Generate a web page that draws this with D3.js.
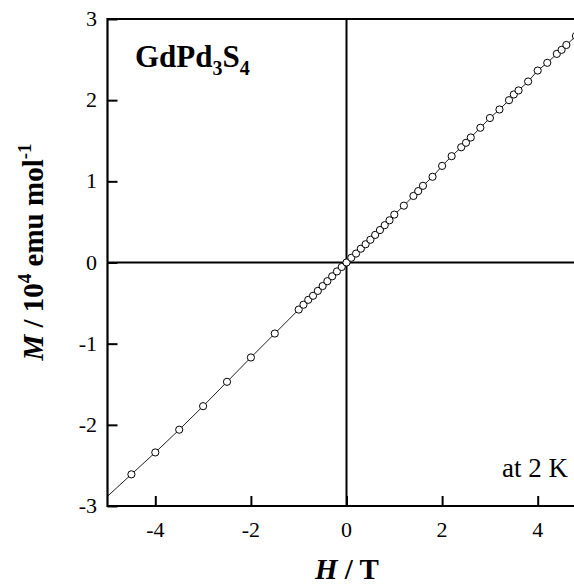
<!DOCTYPE html>
<html>
<head>
<meta charset="utf-8">
<script src="https://cdn.jsdelivr.net/npm/d3@7"></script>
<style>
  body { margin: 0; background: #fff; }
  svg { display: block; overflow: hidden; }
  text { font-family: "Liberation Serif", "Times New Roman", serif; fill: #000; }
</style>
</head>
<body>
<svg id="svg"></svg>
<script>
// field H (T) and magnetization M (10^4 emu/mol)
let fieldNeg = [-4.5, -4, -3.5, -3, -2.5, -2, -1.5, -1, -0.9, -0.8, -0.7, -0.6, -0.5, -0.4, -0.3, -0.2, -0.1, 0];
let momentNeg = [-2.61, -2.34, -2.06, -1.77, -1.47, -1.17, -0.875, -0.58, -0.52, -0.46, -0.41, -0.35, -0.29, -0.23, -0.17, -0.11, -0.055, 0];
let fieldPos = [0.1, 0.2, 0.3, 0.4, 0.5, 0.6, 0.7, 0.8, 0.9, 1.0, 1.2, 1.4, 1.5, 1.6, 1.8, 2.0, 2.2, 2.4, 2.5, 2.6, 2.8, 3.0, 3.2, 3.4, 3.5, 3.6, 3.8, 4.0, 4.2, 4.4, 4.5, 4.6, 4.8];
let momentPos = [0.058, 0.11, 0.17, 0.225, 0.28, 0.34, 0.40, 0.46, 0.52, 0.59, 0.70, 0.82, 0.88, 0.945, 1.056, 1.19, 1.31, 1.42, 1.475, 1.54, 1.66, 1.78, 1.885, 2.0, 2.07, 2.12, 2.23, 2.365, 2.46, 2.57, 2.62, 2.68, 2.79];
// the thin line through the points runs to both edges
let fitField = [-5, 5];
let fitMoment = [-2.88, 2.92];

let xTicks = [-4, -2, 0, 2, 4];
let yTicks = [-3, -2, -1, 0, 1, 2, 3];

let width = 574, height = 586;
let svg = d3.select("#svg").attr("width", width).attr("height", height);

let x = d3.scaleLinear().domain([-5, 5]).range([107.5, 585.5]);
let y = d3.scaleLinear().domain([-3, 3]).range([506, 19]);

let points = [];
fieldNeg.forEach((h, i) => points.push([h, momentNeg[i]]));
fieldPos.forEach((h, i) => points.push([h, momentPos[i]]));

let linePts = [[fitField[0], fitMoment[0]]].concat(points, [[fitField[1], fitMoment[1]]]);

// zero lines
svg.append("line").attr("x1", x(-5)).attr("x2", x(5)).attr("y1", y(0)).attr("y2", y(0))
    .attr("stroke", "#000").attr("stroke-width", 2);
svg.append("line").attr("x1", x(0)).attr("x2", x(0)).attr("y1", y(3)).attr("y2", y(-3))
    .attr("stroke", "#000").attr("stroke-width", 2);

// line + open circles
svg.append("path").datum(linePts)
    .attr("d", d3.line().x(d => x(d[0])).y(d => y(d[1])))
    .attr("fill", "none").attr("stroke", "#222").attr("stroke-width", 1);

svg.append("g").selectAll("circle")
    .data(points)
    .join("circle")
    .attr("cx", d => x(d[0]))
    .attr("cy", d => y(d[1]))
    .attr("r", 3.6)
    .attr("fill", "#fff")
    .attr("stroke", "#000")
    .attr("stroke-width", 1);

// axes, ticks pointing inward
let yAxis = d3.axisRight(y).tickValues(yTicks).tickSize(10).tickFormat("");
svg.append("g").attr("transform", `translate(${x(-5)},0)`).call(yAxis)
    .call(g => g.selectAll("line").attr("stroke-width", 2));
let xAxis = d3.axisTop(x).tickValues(xTicks).tickSize(10).tickFormat("");
svg.append("g").attr("transform", `translate(0,${y(-3)})`).call(xAxis)
    .call(g => g.selectAll("line").attr("stroke-width", 2));
svg.selectAll(".domain").remove();

// frame (right side runs off the page)
svg.append("path")
    .attr("d", `M${x(5)},${y(3)}H${x(-5)}V${y(-3)}H${x(5)}`)
    .attr("fill", "none").attr("stroke", "#000").attr("stroke-width", 2.2);

// tick labels
svg.append("g").selectAll("text").data(yTicks).join("text")
    .attr("x", 97).attr("y", d => y(d) + 7)
    .attr("text-anchor", "end").attr("font-size", 22)
    .text(d => d);
svg.append("g").selectAll("text").data(xTicks).join("text")
    .attr("x", d => x(d)).attr("y", 537)
    .attr("text-anchor", "middle").attr("font-size", 22)
    .text(d => d);

// axis titles
let yt = svg.append("text")
    .attr("transform", "translate(43,252) rotate(-90)")
    .attr("text-anchor", "middle").attr("font-size", 29).attr("font-weight", "bold");
yt.append("tspan").attr("font-style", "italic").text("M");
yt.append("tspan").text(" / 10");
yt.append("tspan").attr("font-size", 19).attr("dy", -12).text("4");
yt.append("tspan").attr("dy", 12).text(" emu mol");
yt.append("tspan").attr("font-size", 19).attr("dy", -12).text("-1");

let xt = svg.append("text")
    .attr("x", 347).attr("y", 579)
    .attr("text-anchor", "middle").attr("font-size", 29).attr("font-weight", "bold");
xt.append("tspan").attr("font-style", "italic").text("H");
xt.append("tspan").text(" / T");

// compound label
let cl = svg.append("text").attr("x", 135).attr("y", 67)
    .attr("font-size", 31).attr("font-weight", "bold");
cl.append("tspan").text("GdPd");
cl.append("tspan").attr("font-size", 20).attr("dy", 8).text("3");
cl.append("tspan").attr("dy", -8).text("S");
cl.append("tspan").attr("font-size", 20).attr("dy", 8).text("4");

svg.append("text").attr("x", 568).attr("y", 477)
    .attr("text-anchor", "end").attr("font-size", 27)
    .text("at 2 K");
</script>
</body>
</html>
